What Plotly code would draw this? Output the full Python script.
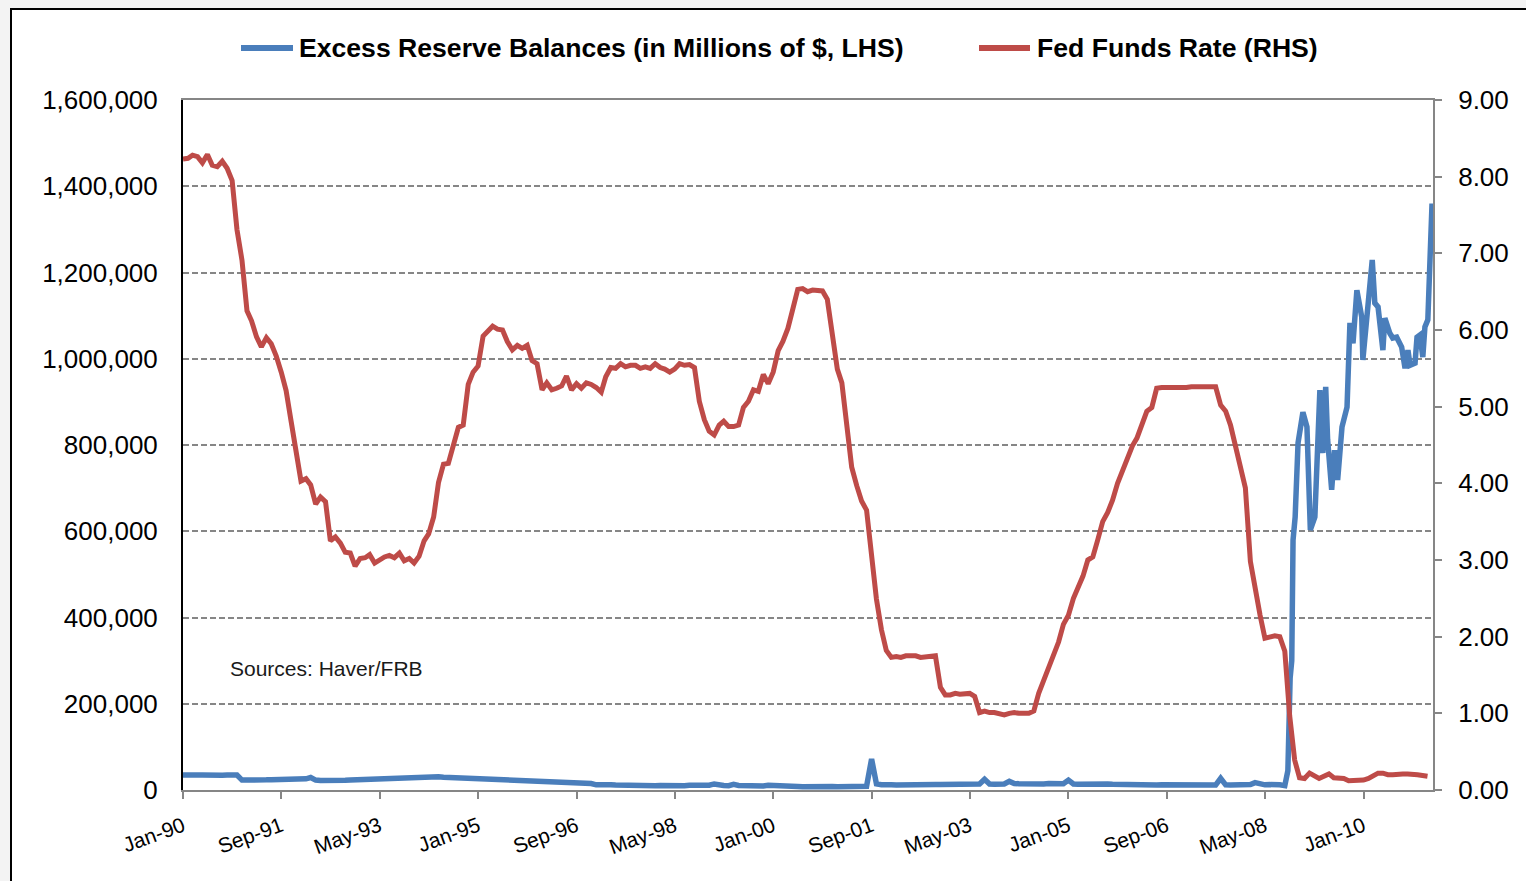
import pandas as pd
import plotly.graph_objects as go

# Excess reserve balances, millions of $, monthly Jan-1990 .. Aug-2008
reserves_monthly = [
    # 1990
    35000, 34000, 35500, 34500, 35000, 34000, 35000, 34500, 34000, 34500, 33500, 34500,
    # 1991
    23000, 22500, 23000, 23500, 23000, 23500, 24000, 24000, 24500, 25000, 25500, 26000,
    # 1992
    26500, 26000, 29000, 23000, 22000, 21500, 21000, 21500, 22000, 22500, 23000, 23500,
    # 1993
    24000, 25000, 24500, 26000, 26500, 27000, 27500, 28000, 28500, 29000, 29500, 30000,
    # 1994
    31000, 30500, 30000, 30000, 30500, 29500, 29000, 28500, 28000, 28000, 27500, 27000,
    # 1995
    27000, 26500, 26000, 26000, 25500, 25000, 24500, 25000, 23000, 23500, 22000, 22000,
    # 1996
    21500, 21000, 19500, 20000, 19000, 18500, 18000, 16500, 17000, 16000, 15500, 15000,
    # 1997
    12000, 13000, 12500, 12000, 11500, 11000, 12000, 11500, 11000, 11000, 10500, 10500,
    # 1998
    10000, 10500, 10000, 10000, 10500, 10000, 10000, 11000, 10500, 10000, 10000, 11000,
    # 1999
    14000, 11000, 10500, 10000, 13000, 10500, 10000, 10500, 10000, 10000, 9500, 11000,
    # 2000
    10000, 9000, 8000, 8000, 8500, 8000, 7500, 8000, 8000, 7500, 8000, 8500,
    # 2001
    8000, 7500, 8000, 7500, 7500, 8000, 8000, 8500, 72000, 14000, 12000, 13000,
    # 2002
    12000, 11500, 12000, 12500, 12000, 12500, 12000, 12000, 12500, 13000, 12500, 13000,
    # 2003
    13000, 13500, 13000, 13500, 13000, 14000, 14000, 25000, 14000, 13500, 14000, 14000,
    # 2004
    20000, 15000, 14500, 14000, 14500, 15000, 14500, 14000, 15000, 14500, 14000, 14500,
    # 2005
    23000, 14000, 13500, 14000, 14500, 14000, 13500, 13000, 14000, 13500, 13000, 13500,
    # 2006
    13000, 12500, 12000, 12500, 12000, 12000, 11500, 12000, 12000, 11500, 12000, 11500,
    # 2007
    11000, 11500, 11000, 11500, 11000, 11000, 11500, 27000, 12000, 11500, 11000, 12000,
    # 2008 Jan-Aug
    13000, 12500, 17000, 13000, 12000, 12500, 13000, 12000,
]

# Excess reserve balances from Sep-2008 on, at finer frequency
reserves_recent_dates = [
    "2008-09-01", "2008-09-20", "2008-10-04", "2008-10-14", "2008-10-22",
    "2008-11-04", "2008-11-22", "2008-12-22", "2009-01-16", "2009-02-06",
    "2009-03-06", "2009-03-19", "2009-04-06", "2009-04-24", "2009-05-12",
    "2009-05-24", "2009-06-18", "2009-07-06", "2009-07-25", "2009-08-21",
    "2009-09-21", "2009-10-09", "2009-10-28", "2009-11-21", "2009-12-21",
    "2009-12-28", "2010-01-21", "2010-02-24", "2010-03-12", "2010-04-01",
    "2010-05-01", "2010-05-13", "2010-06-13", "2010-07-01", "2010-07-25",
    "2010-08-25", "2010-09-15", "2010-10-03", "2010-10-16", "2010-11-16",
    "2010-11-28", "2010-12-16", "2011-01-03", "2011-01-16", "2011-02-03",
    "2011-03-01",
]
reserves_recent_values = [
    10000, 45000, 260000, 300000, 580000,
    633000, 805000, 876000, 842000, 603000,
    633000, 781000, 927000, 781000, 935000,
    812000, 696000, 788000, 719000, 842000,
    888000, 1083000, 1036000, 1159000, 1097000,
    997000, 1083000, 1229000, 1129000, 1120000,
    1020000, 1094000, 1059000, 1048000, 1050000,
    1027000, 978000, 1020000, 985000, 990000,
    1050000, 1055000, 1004000, 1074000, 1090000,
    1360000,
]

# Effective fed funds rate, %, monthly Jan-1990 .. Feb-2011
fed_funds = [
    8.23, 8.24, 8.28, 8.26, 8.18, 8.29, 8.15, 8.13, 8.20, 8.11, 7.95, 7.31,
    6.91, 6.25, 6.12, 5.91, 5.78, 5.90, 5.82, 5.66, 5.45, 5.21, 4.81, 4.43,
    4.03, 4.06, 3.98, 3.73, 3.82, 3.76, 3.25, 3.30, 3.22, 3.10, 3.09, 2.92,
    3.02, 3.03, 3.07, 2.96, 3.00, 3.04, 3.06, 3.03, 3.09, 2.99, 3.02, 2.96,
    3.05, 3.25, 3.34, 3.56, 4.01, 4.25, 4.26, 4.47, 4.73, 4.76, 5.29, 5.45,
    5.53, 5.92, 5.98, 6.05, 6.01, 6.00, 5.85, 5.74, 5.80, 5.76, 5.80, 5.60,
    5.56, 5.22, 5.31, 5.22, 5.24, 5.27, 5.40, 5.22, 5.30, 5.24, 5.31, 5.29,
    5.25, 5.19, 5.39, 5.51, 5.50, 5.56, 5.52, 5.54, 5.54, 5.50, 5.52, 5.50,
    5.56, 5.51, 5.49, 5.45, 5.49, 5.56, 5.54, 5.55, 5.51, 5.07, 4.83, 4.68,
    4.63, 4.76, 4.81, 4.74, 4.74, 4.76, 4.99, 5.07, 5.22, 5.20, 5.42, 5.30,
    5.45, 5.73, 5.85, 6.02, 6.27, 6.53, 6.54, 6.50, 6.52, 6.51, 6.51, 6.40,
    5.98, 5.49, 5.31, 4.80, 4.21, 3.97, 3.77, 3.65, 3.07, 2.49, 2.09, 1.82,
    1.73, 1.74, 1.73, 1.75, 1.75, 1.75, 1.73, 1.74, 1.75, 1.75, 1.34, 1.24,
    1.24, 1.26, 1.25, 1.26, 1.26, 1.22, 1.01, 1.03, 1.01, 1.01, 1.00, 0.98,
    1.00, 1.01, 1.00, 1.00, 1.00, 1.03, 1.26, 1.43, 1.61, 1.76, 1.93, 2.16,
    2.28, 2.50, 2.63, 2.79, 3.00, 3.04, 3.26, 3.50, 3.62, 3.78, 4.00, 4.16,
    4.29, 4.49, 4.59, 4.79, 4.94, 4.99, 5.24, 5.25, 5.25, 5.25, 5.25, 5.24,
    5.25, 5.26, 5.26, 5.25, 5.25, 5.25, 5.26, 5.02, 4.94, 4.76, 4.49, 4.24,
    3.94, 2.98, 2.61, 2.28, 1.98, 2.00, 2.01, 2.00, 1.81, 0.97, 0.39, 0.16,
    0.15, 0.22, 0.18, 0.15, 0.18, 0.21, 0.16, 0.16, 0.15, 0.12, 0.12, 0.12,
    0.13, 0.15, 0.18, 0.22, 0.22, 0.20, 0.20, 0.21, 0.21, 0.21, 0.21, 0.20,
    0.19, 0.18,
]

tick_dates = [
    "1990-01-01", "1991-09-01", "1993-05-01", "1995-01-01", "1996-09-01",
    "1998-05-01", "2000-01-01", "2001-09-01", "2003-05-01", "2005-01-01",
    "2006-09-01", "2008-05-01", "2010-01-01",
]
tick_labels = [
    "Jan-90", "Sep-91", "May-93", "Jan-95", "Sep-96", "May-98", "Jan-00",
    "Sep-01", "May-03", "Jan-05", "Sep-06", "May-08", "Jan-10",
]

reserve_names = "Excess Reserve Balances (in Millions of $, LHS)"
ffr_name = "Fed Funds Rate (RHS)"

BLUE = "#4A7EBB"
RED = "#BE4B48"
GREY = "#868686"
FONT = "Arial, Liberation Sans, sans-serif"

res_dates = list(pd.date_range("1990-01-01", periods=len(reserves_monthly), freq="MS"))
res_dates += list(pd.to_datetime(reserves_recent_dates))
res_values = reserves_monthly + reserves_recent_values
ffr_dates = pd.date_range("1990-01-01", periods=len(fed_funds), freq="MS")

fig = go.Figure()
fig.add_trace(go.Scatter(
    x=res_dates, y=res_values, mode="lines", name=reserve_names,
    line=dict(color=BLUE, width=5.5), yaxis="y", showlegend=False,
))
fig.add_trace(go.Scatter(
    x=ffr_dates, y=fed_funds, mode="lines", name=ffr_name,
    line=dict(color=RED, width=5), yaxis="y2", showlegend=False,
))

# plot-area geometry in pixels, used to place the frame and legend
W, H = 1526, 881
L, R, T, B = 183, 1433, 100, 790


def px(xp):
    return (xp - L) / (R - L)


def py(yp):
    return (B - yp) / (B - T)


shapes = [
    # chart frame
    dict(type="rect", xref="paper", yref="paper", x0=px(11), x1=px(1545),
         y0=py(900), y1=py(9), line=dict(color="black", width=2),
         fillcolor="white", layer="below"),
    # legend swatches
    dict(type="line", xref="paper", yref="paper", x0=px(241), x1=px(293),
         y0=py(48), y1=py(48), line=dict(color=BLUE, width=6)),
    dict(type="line", xref="paper", yref="paper", x0=px(979), x1=px(1030),
         y0=py(48), y1=py(48), line=dict(color=RED, width=6)),
]

annotations = [
    dict(text=reserve_names, xref="paper", yref="paper", x=px(297), y=py(48),
         xanchor="left", yanchor="middle", showarrow=False,
         font=dict(family=FONT, size=26.6, color="black", weight="bold")),
    dict(text=ffr_name, xref="paper", yref="paper", x=px(1035), y=py(48),
         xanchor="left", yanchor="middle", showarrow=False,
         font=dict(family=FONT, size=26.6, color="black", weight="bold")),
    dict(text="Sources: Haver/FRB", xref="paper", yref="paper", x=px(228), y=py(668),
         xanchor="left", yanchor="middle", showarrow=False,
         font=dict(family=FONT, size=21, color="#1a1a1a")),
]

fig.update_layout(
    width=W, height=H, autosize=False,
    margin=dict(l=L, r=W - R, t=T, b=H - B, pad=0),
    paper_bgcolor="#f3f3f3",
    plot_bgcolor="rgba(0,0,0,0)",
    font=dict(family=FONT, color="black"),
    showlegend=False,
    shapes=shapes,
    annotations=annotations,
    xaxis=dict(
        type="date", range=["1990-01-01", "2011-03-07"],
        tickvals=tick_dates, ticktext=tick_labels, tickangle=-20,
        tickfont=dict(size=21, color="black"),
        ticks="outside", ticklen=7, tickwidth=2, tickcolor=GREY,
        showline=True, linecolor=GREY, linewidth=2, mirror=True,
        showgrid=False, zeroline=False, ticklabelstandoff=7,
    ),
    yaxis=dict(
        range=[0, 1600000], dtick=200000, tick0=0, tickformat=",",
        tickfont=dict(size=26, color="black"),
        showgrid=True, gridcolor=GREY, gridwidth=1.5, griddash="6px,3px",
        showline=True, linecolor="black", linewidth=2,
        ticks="", zeroline=False, ticklabelstandoff=18,
    ),
    yaxis2=dict(
        overlaying="y", side="right", range=[0, 9], dtick=1, tick0=0,
        tickformat=".2f", tickfont=dict(size=26, color="black"),
        showgrid=False, zeroline=False,
        showline=True, linecolor=GREY, linewidth=2,
        ticks="outside", ticklen=7, tickwidth=2, tickcolor=GREY,
        ticklabelstandoff=11,
    ),
)

fig.write_html("out.html")
